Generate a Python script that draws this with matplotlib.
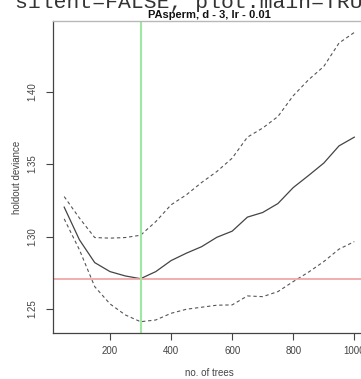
import matplotlib
matplotlib.use("Agg")
import matplotlib.pyplot as plt

# number of trees and holdout deviance (mean and +/- se)
n_trees = [50, 100, 150, 200, 250, 300, 350, 400, 450, 500,
           550, 600, 650, 700, 750, 800, 850, 900, 950, 1000]
dev_mean = [1.3203, 1.2977, 1.2820, 1.2758, 1.2728, 1.2709, 1.2758, 1.2834, 1.2885, 1.2930,
            1.2995, 1.3037, 1.3134, 1.3166, 1.3228, 1.3338, 1.3421, 1.3507, 1.3626, 1.3686]
dev_upper = [1.3276, 1.3127, 1.2993, 1.2989, 1.2993, 1.3009, 1.3103, 1.3219, 1.3288, 1.3373,
             1.3449, 1.3541, 1.3686, 1.3749, 1.3829, 1.3972, 1.4082, 1.4174, 1.4336, 1.4409]
dev_lower = [1.3122, 1.2908, 1.2654, 1.2535, 1.2459, 1.2412, 1.2424, 1.2470, 1.2498, 1.2512,
             1.2526, 1.2528, 1.2590, 1.2585, 1.2620, 1.2689, 1.2754, 1.2827, 1.2913, 1.2965]
best_trees = 300
min_dev = min(dev_mean)

title = "PAsperm, d - 3, lr - 0.01"
code_line = "silent=FALSE, plot.main=TRUE)"

plt.rcParams["font.family"] = ["Liberation Sans", "DejaVu Sans"]

W, H = 361, 379
fig = plt.figure(figsize=(W / 100, H / 100), dpi=100)

# leftover code text from screenshot, cut off at the top
fig.text(15 / W, 1 - 7.5 / H, code_line, family="Liberation Mono", fontsize=15.4,
         color="#333333", va="baseline", ha="left")

ax = fig.add_axes([53 / W, 1 - 333.3 / H, 312.9 / W, 312.3 / H])

axis_col = "#444444"
ax.plot(n_trees, dev_mean, color="#444444", lw=0.9)
ax.plot(n_trees, dev_upper, color="#555555", lw=0.8, ls=(0, (3, 2.5)))
ax.plot(n_trees, dev_lower, color="#555555", lw=0.8, ls=(0, (3, 2.5)))
ax.axhline(min_dev, color="#f0a0a0", lw=1.2)
ax.axvline(best_trees, color="#a0e8a0", lw=1.5)

ax.set_xlim(13.35, 1038)
ax.set_ylim(1.2332, 1.4488)
ax.set_xticks([200, 400, 600, 800, 1000])
ax.set_yticks([1.25, 1.30, 1.35, 1.40])
ax.set_yticklabels(["1.25", "1.30", "1.35", "1.40"], rotation=90, va="center")

ax.tick_params(direction="out", length=5, width=0.8, color=axis_col,
               labelsize=7, labelcolor="#444444", pad=6)
ax.tick_params(axis="x", pad=4)
for side in ["left", "bottom"]:
    ax.spines[side].set_color(axis_col)
    ax.spines[side].set_linewidth(0.9)
ax.spines["top"].set_color("#b8b8b8")
ax.spines["top"].set_linewidth(1.0)
ax.spines["right"].set_visible(False)

fig.text(209.5 / W, 1 - 373 / H, "no. of trees", fontsize=7, color="#444444",
         ha="center", va="center")
fig.text(17 / W, 1 - 177 / H, "holdout deviance", fontsize=7, color="#444444",
         ha="center", va="center", rotation=90)
ax.set_title(title, fontsize=8, fontweight="bold", color="#111111", pad=2)

fig.savefig("out.png", dpi=100)
